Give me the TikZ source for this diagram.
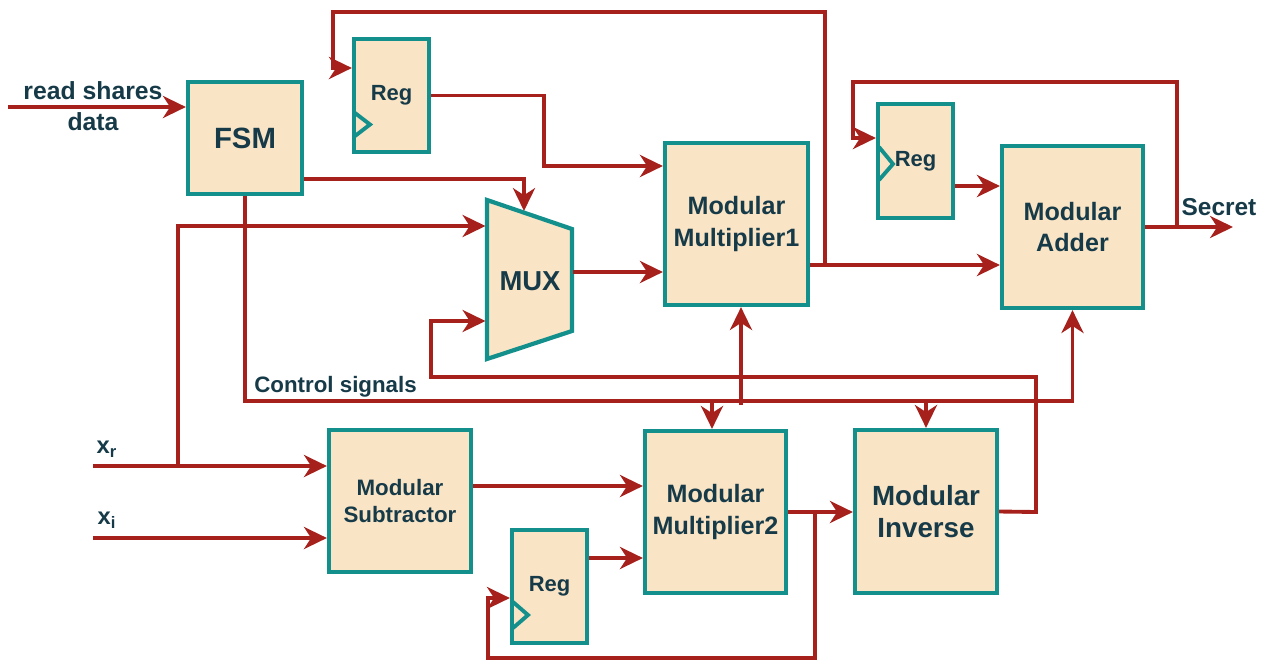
\documentclass[tikz,border=0pt]{standalone}
\usepackage{fontspec}
\setmainfont{Liberation Sans}
\usetikzlibrary{arrows.meta,calc}
\definecolor{wirered}{RGB}{166,33,28}
\definecolor{tealb}{RGB}{19,143,140}
\definecolor{boxfill}{RGB}{250,228,198}
\definecolor{txt}{RGB}{22,58,72}
\begin{document}
\begin{tikzpicture}[x=0.02cm,y=-0.02cm,
  blk/.style={draw=tealb, line width=2.4pt, fill=boxfill, text=txt, align=center, inner sep=0pt},
  wire/.style={draw=wirered, line width=2.2pt},
  arr/.style={wire, -{Stealth[length=13pt,width=12.5pt,inset=4pt]}},
  lbl/.style={text=txt, inner sep=0pt, align=center},
  clk/.style={draw=tealb, line width=2.2pt},
  fbig/.style={font=\bfseries\fontsize{14.3}{18}\selectfont},
  freg/.style={font=\bfseries\fontsize{12.5}{15}\selectfont}]
\useasboundingbox (0,0) rectangle (1275,660);

% blocks
\node[blk, minimum width=2.28cm, minimum height=2.24cm, font=\bfseries\fontsize{16.7}{20}\selectfont] (fsm) at (245,138) {FSM};
\node[blk, minimum width=1.5cm, minimum height=2.26cm, freg] (reg1) at (391.5,95.5) {\raisebox{-0.07cm}{Reg}};
\node[blk, minimum width=2.86cm, minimum height=3.24cm, fbig] (mm1) at (736.5,224) {Modular\\Multiplier1};
\node[blk, minimum width=1.5cm, minimum height=2.28cm, freg] (reg2) at (915.5,161) {\raisebox{-0.07cm}{Reg}};
\node[blk, minimum width=2.82cm, minimum height=3.24cm, fbig] (add) at (1072.5,227) {Modular\\Adder};
\node[blk, minimum width=2.84cm, minimum height=2.84cm, font=\bfseries\fontsize{12.7}{15.3}\selectfont] (sub) at (400,501) {Modular\\Subtractor};
\node[blk, minimum width=2.82cm, minimum height=3.24cm, fbig] (mm2) at (715.5,512) {Modular\\Multiplier2};
\node[blk, minimum width=1.5cm, minimum height=2.26cm, freg] (reg3) at (549.5,586.5) {Reg};
\node[blk, minimum width=2.84cm, minimum height=3.26cm, font=\bfseries\fontsize{15.8}{18.7}\selectfont] (inv) at (926,511.5) {Modular\\Inverse};

% clock marks
\draw[clk] (355,113) -- (370,124.5) -- (355,136);
\draw[clk] (879,147) -- (893,164) -- (879,180);
\draw[clk] (513,602) -- (528,615) -- (513,628);

% MUX
\coordinate (mTL) at (487,200);
\coordinate (mTR) at (572,229);
\coordinate (mBR) at (572,331);
\coordinate (mBL) at (487,359);
\draw[draw=tealb, line width=2.4pt, fill=boxfill, line join=miter] (mTL) -- (mTR) -- (mBR) -- (mBL) -- cycle;
\node[lbl, font=\bfseries\fontsize{15.6}{18}\selectfont] (mux) at (530,281) {MUX};
\coordinate (mI1) at (485.5,226);
\coordinate (mI2) at (485.5,321);
\coordinate (mT) at (524,211);
\coordinate (mO) at (573,272);

% labels
\node[lbl, font=\bfseries\fontsize{14.1}{17.6}\selectfont] (rsdl) at (93,106) {read shares\\data};
\node[lbl, font=\bfseries\fontsize{12.7}{15}\selectfont, anchor=west] (ctl) at (254,387) {Control signals};
\node[lbl, font=\bfseries\fontsize{13.9}{16}\selectfont] (sec) at (1219,207) {Secret};
\node[lbl, font=\bfseries\fontsize{13.5}{16}\selectfont] (xrl) at (107,449) {x\textsubscript{r}};
\node[lbl, font=\bfseries\fontsize{13.5}{16}\selectfont] (xil) at (107,520) {x\textsubscript{i}};

% free ends
\coordinate (rsd) at (8,107);
\coordinate (xr) at (93,466);
\coordinate (xi) at (93,538);
\coordinate (xrb) at (178,466);
\coordinate (secO) at (1233,227);

% connectors
\draw[arr] (rsd) -- (rsd -| fsm.west);
\draw[arr] (fsm.east |- 0,179) -| (mT);
\draw[arr] (xr) -- (xr -| sub.west);
\draw[arr] (xi) -- (xi -| sub.west);
\draw[arr] (xrb) |- (mI1);
\draw[arr] (mO) -- (mO -| mm1.west);
\draw[arr] (reg1.east) -| (544,166) -- (mm1.west |- 0,166);
\draw[arr] (mm1.east |- 0,265) -- (add.west |- 0,265);
\draw[arr] (825,265) -- (825,12) -- (333,12) -- (333,68) -- (reg1.west |- 0,68);
\draw[arr] (reg2.east |- 0,186) -- (add.west |- 0,186);
\draw[arr] (add.east) -- (secO);
\draw[arr] (1177,227) -- (1177,82) -- (853,82) -- (853,138) -- (reg2.west |- 0,138);
\draw[arr] (fsm.south) |- (add.south |- 0,401) -- (add.south);
\draw[arr] (712,401) -- (712,0 |- mm2.north);
\draw[arr] (inv.north |- 0,401) -- (inv.north);
\draw[arr] (741,405) -- (741,0 |- mm1.south);
\draw[arr] (inv.east) -- (1036,512) -- (1036,377) -- (431,377) -- (431,321) -- (mI2);
\draw[arr] (sub.east |- 0,486) -- (mm2.west |- 0,486);
\draw[arr] (reg3.east |- 0,558) -- (mm2.west |- 0,558);
\draw[arr] (mm2.east) -- (inv.west |- mm2.east);
\draw[arr] (815,512) -- (815,658) -- (488,658) -- (488,598) -- (reg3.west |- 0,598);
\end{tikzpicture}
\end{document}
